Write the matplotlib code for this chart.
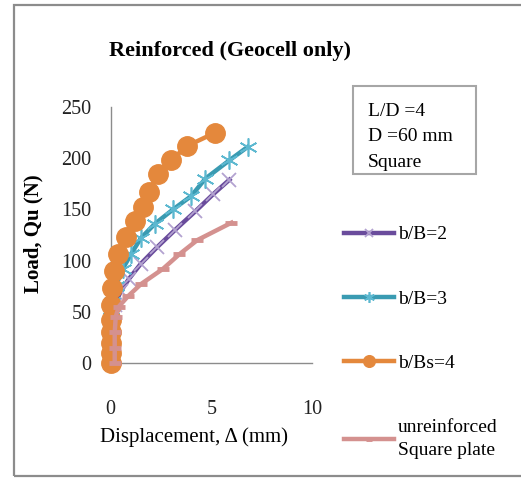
import matplotlib
matplotlib.use('Agg')
import matplotlib.pyplot as plt
from matplotlib.patches import Rectangle

# ----- data -----
x_b2 = [0, 0, 0, 0.05, 0.2, 0.5, 0.9, 1.5, 2.3, 3.2, 4.2, 5.1, 5.9]
y_b2 = [0, 15, 30, 45, 57, 70, 82, 97, 113, 130, 148, 165, 179]

x_b3 = [0, 0, 0, 0, 0.05, 0.25, 0.6, 1.0, 1.5, 2.2, 3.1, 4.0, 4.7, 5.9, 6.8]
y_b3 = [0, 15, 30, 45, 60, 75, 92, 106, 122, 136, 150, 163, 180, 198, 211]

x_b4 = [0, 0, 0, 0, 0, 0.02, 0.08, 0.18, 0.35, 0.75, 1.2, 1.6, 1.9, 2.35, 3.0, 3.8, 5.2]
y_b4 = [0, 10, 20, 30, 42, 57, 73, 90, 106, 123, 139, 152, 167, 185, 198, 212, 225]

x_unr = [0.2, 0.2, 0.2, 0.25, 0.4, 0.85, 1.5, 2.6, 3.4, 4.3, 6.0]
y_unr = [0, 15, 30, 45, 55, 65, 77, 92, 106, 120, 137]

x_ticks = [0, 5, 10]
y_ticks = [0, 50, 100, 150, 200, 250]

plt.rcParams['font.family'] = ['Liberation Serif', 'DejaVu Serif']

fig = plt.figure(figsize=(5.21, 4.79), dpi=100)

# outer frame
fig.patches.append(Rectangle((14 / 521, 3 / 479), 1.0, 1 - 8 / 479,
                             transform=fig.transFigure, fill=False,
                             edgecolor='#8c8c8c', linewidth=1.6))

ax = fig.add_axes([110.7 / 521, 1 - 363 / 479, 201.3 / 521, 256 / 479])

ax.plot(x_b2, y_b2, color='#6a4c9c', lw=3.2, marker='x', ms=10,
        mec='#b3a2d0', mew=1.3, clip_on=False, label='b/B=2', zorder=2)
ax.plot(x_b3, y_b3, color='#3a9bb2', lw=3.2, marker=(6, 2, 0), ms=13,
        mec='#5cb8d0', mew=1.2, clip_on=False, label='b/B=3', zorder=3)
ax.plot(x_b4, y_b4, color='#e4883c', lw=3.2, marker='o', ms=14,
        mec='#e4883c', mfc='#e4883c', clip_on=False, label='b/Bs=4', zorder=4)
ax.plot(x_unr, y_unr, color='#d4918f', lw=3.2, marker='_', ms=8,
        mew=3.5, clip_on=False, label='unreinforced\nSquare plate', zorder=5)

ax.set_xlim(0, 10)
ax.set_ylim(0, 250)
ax.set_xticks(x_ticks)
ax.set_yticks(y_ticks)

for s in ['top', 'right']:
    ax.spines[s].set_visible(False)
for s in ['left', 'bottom']:
    ax.spines[s].set_color('#8c8c8c')
    ax.spines[s].set_linewidth(1.0)

ax.tick_params(axis='both', length=0, labelsize=14.5, colors='#222222')
ax.tick_params(axis='y', pad=14)
ax.tick_params(axis='x', pad=27)

ax.set_xlabel('Displacement, \u0394 (mm)', fontsize=15, va='center')
ax.xaxis.set_label_coords((194 - 110.7) / 201.3, (363 - 437) / 256)
ax.set_ylabel('Load, Qu (N)', fontsize=15, fontweight='bold', va='center')
ax.yaxis.set_label_coords((33 - 110.7) / 201.3, (363 - 234) / 256)

fig.text(230 / 521, 1 - 51 / 479, 'Reinforced (Geocell only)',
         fontsize=16, fontweight='bold', ha='center', va='center')

# info box
fig.patches.append(Rectangle((353 / 521, 1 - 174 / 479), 123 / 521, 88 / 479,
                             transform=fig.transFigure, fill=False,
                             edgecolor='#a6a6a6', linewidth=1.5))
fig.text(368 / 521, 1 - 137 / 479, 'L/D =4\nD =60 mm\nSquare',
         fontsize=14, ha='left', va='center', linespacing=1.65)

leg = fig.legend(loc='upper left', bbox_to_anchor=(334 / 521, 1 - 216 / 479),
                 frameon=False, fontsize=14, handlelength=2.6, handletextpad=0.2,
                 labelspacing=2.4, markerscale=0.6, borderpad=0)
leg.get_texts()[3].set_linespacing(1.5)

fig.savefig('out.png', dpi=100)
